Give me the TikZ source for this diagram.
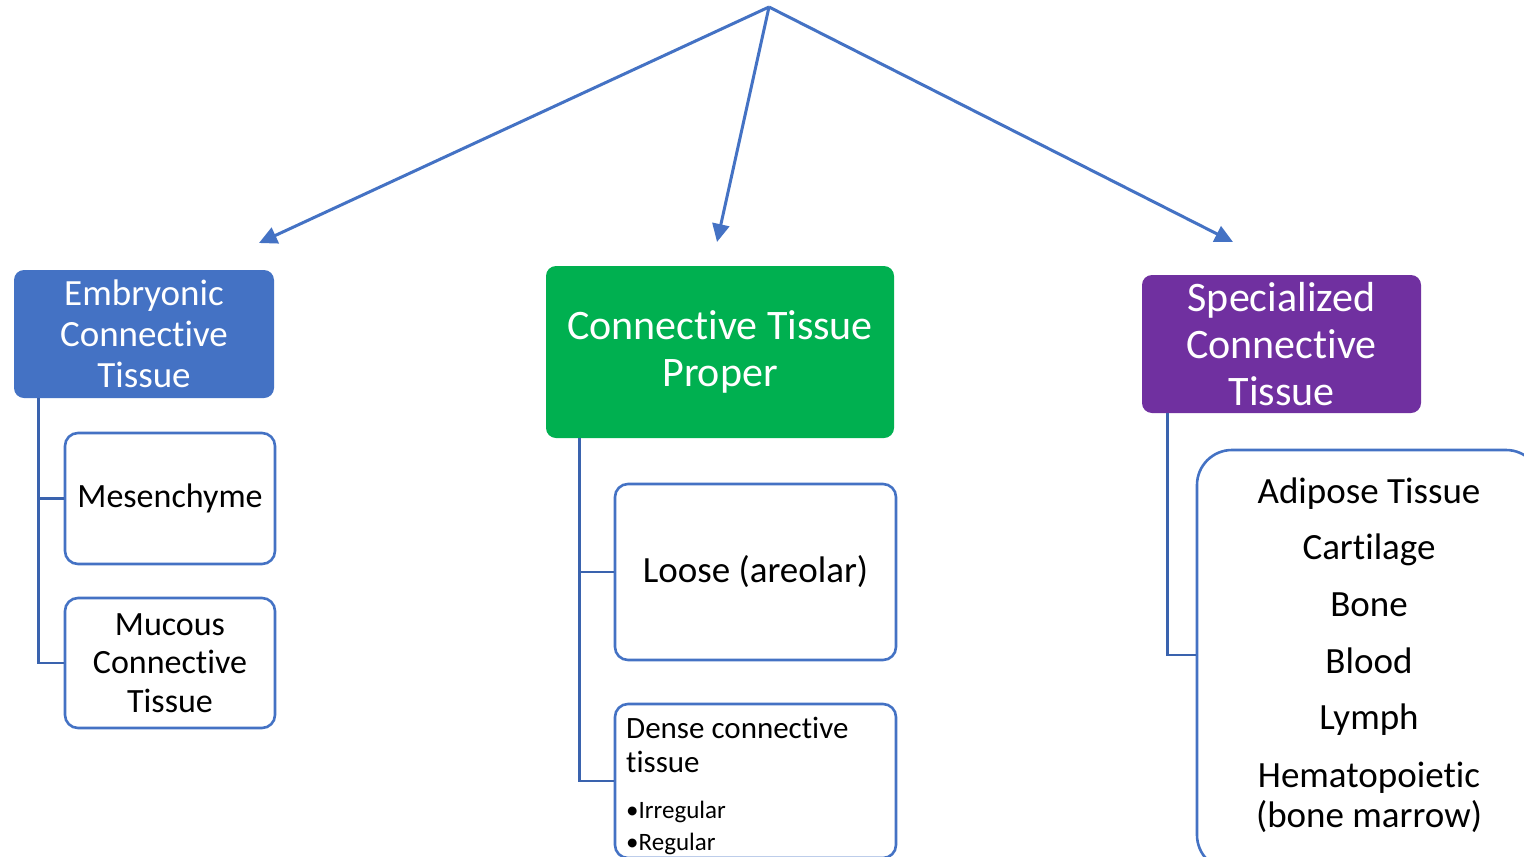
\documentclass[tikz,border=0pt]{standalone}
\usepackage{fontspec}
\setmainfont{Carlito}[Ligatures={NoCommon,NoRare,NoContextual}]
\usetikzlibrary{arrows.meta}
\definecolor{blueA}{HTML}{4472C4}
\definecolor{greenA}{HTML}{00B050}
\definecolor{purpleA}{HTML}{7030A0}
\definecolor{lineA}{HTML}{3A63AE}
\newcommand{\tiL}{t\kern0pt i}
\begin{document}
\begin{tikzpicture}[x=1pt,y=-1pt,
  head/.style={draw=none, rounded corners=10pt, text=white, align=center, inner sep=0pt},
  sub/.style={draw=blueA, line width=2.6pt, fill=white, rounded corners=13pt, align=center, inner sep=0pt},
  arr/.style={draw=blueA, line width=3pt, -{Triangle[length=18pt,width=17pt]}},
  brk/.style={draw=lineA, line width=2.7pt},
  item/.style={anchor=base, inner sep=0pt, font=\fontsize{37}{41}\selectfont},
  dtxt/.style={anchor=base west, inner sep=0pt}]
\clip (0,0) rectangle (1524,857);
\fill[white] (0,0) rectangle (1524,857);

% top arrows
\coordinate (top) at (769,7);
\coordinate (eL) at (259,243);
\coordinate (eM) at (717,242);
\coordinate (eR) at (1233,242);
\draw[arr] (top) -- (eL);
\draw[arr] (top) -- (eM);
\draw[arr] (top) -- (eR);

% left column
\node[head, fill=blueA, minimum width=260pt, minimum height=128pt, font=\fontsize{37}{41}\selectfont] (emb) at (144,334) {Embryonic\\Connec\tiL ve\\Tissue};
\node[sub, minimum width=210pt, minimum height=131pt, font=\fontsize{34}{38}\selectfont] (mes) at (170,498.5) {Mesenchyme};
\node[sub, minimum width=210pt, minimum height=130pt, font=\fontsize{34}{38.5}\selectfont] (muc) at (170,663) {Mucous\\Connec\tiL ve\\Tissue};
\draw[brk] ([xshift=25pt]emb.south west) |- (mes.west);
\draw[brk] ([xshift=25pt]emb.south west) |- (muc.west);

% middle column
\node[head, fill=greenA, minimum width=348pt, minimum height=172pt, font=\fontsize{42}{47}\selectfont] (ctp) at (720,352) {Connec\tiL ve Tissue\\Proper};
\node[sub, minimum width=281pt, minimum height=176pt, font=\fontsize{37}{41}\selectfont] (loose) at (755.5,572) {Loose (areolar)};
\node[sub, minimum width=281pt, minimum height=154pt] (dense) at (755.5,781) {};
\node[dtxt, font=\fontsize{31}{34}\selectfont] (d1) at (626,738) {Dense connec\tiL ve};
\node[dtxt, font=\fontsize{31}{34}\selectfont] (d2) at (626,772) {tissue};
\node[dtxt, font=\fontsize{25}{30}\selectfont] (d3) at (626,818) {•Irregular};
\node[dtxt, font=\fontsize{25}{30}\selectfont] (d4) at (626,850) {•Regular};
\draw[brk] ([xshift=34pt]ctp.south west) |- (loose.west);
\draw[brk] ([xshift=34pt]ctp.south west) |- (dense.west);

% right column
\node[head, fill=purpleA, minimum width=279pt, minimum height=138pt, font=\fontsize{42}{47}\selectfont] (spec) at (1281.5,344) {Specialized\\Connec\tiL ve\\Tissue};
\node[sub, rounded corners=35pt, minimum width=344pt, minimum height=420pt] (list) at (1369,660) {};
\node[item] (i1) at (1369,503) {Adipose Tissue};
\node[item] (i2) at (1369,559) {Car\tiL lage};
\node[item] (i3) at (1369,616) {Bone};
\node[item] (i4) at (1369,673) {Blood};
\node[item] (i5) at (1369,729) {Lymph};
\node[item] (i6) at (1369,787) {Hematopoie\tiL c};
\node[item] (i7) at (1369,827) {(bone marrow)};
\draw[brk] ([xshift=26pt]spec.south west) |- ([yshift=5pt]list.west);
\end{tikzpicture}
\end{document}
